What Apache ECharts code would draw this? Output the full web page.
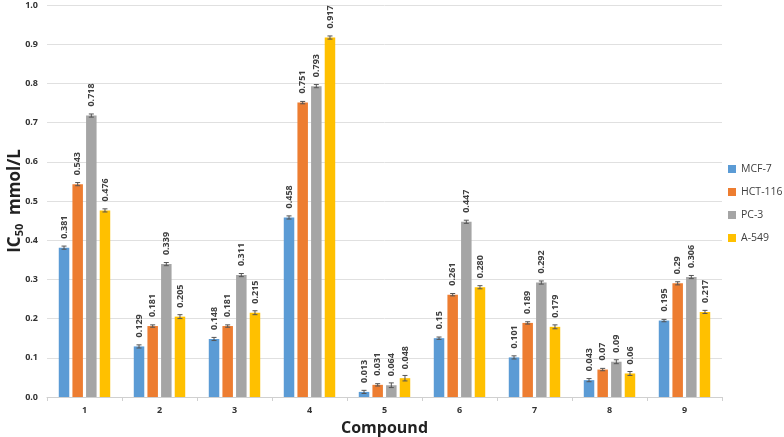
<!DOCTYPE html>
<html>
<head>
<meta charset="utf-8">
<script src="https://cdn.jsdelivr.net/npm/echarts@6/dist/echarts.min.js"></script>
<style>
html,body{margin:0;padding:0;background:#fff;}
#chart{width:784px;height:437px;}
</style>
</head>
<body>
<div id="chart"></div>
<script>
var categories = ['1','2','3','4','5','6','7','8','9'];
var seriesNames = ['MCF-7','HCT-116','PC-3','A-549'];
var mcf7 = [0.381,0.129,0.148,0.458,0.013,0.150,0.101,0.043,0.195];
var hct116 = [0.543,0.181,0.181,0.751,0.031,0.261,0.189,0.070,0.290];
var pc3 = [0.718,0.339,0.311,0.793,0.030,0.447,0.292,0.090,0.306];
var a549 = [0.476,0.205,0.215,0.917,0.048,0.280,0.179,0.060,0.217];
var mcf7Labels = ['0.381','0.129','0.148','0.458','0.013','0.15','0.101','0.043','0.195'];
var hct116Labels = ['0.543','0.181','0.181','0.751','0.031','0.261','0.189','0.07','0.29'];
var pc3Labels = ['0.718','0.339','0.311','0.793','0.064','0.447','0.292','0.09','0.306'];
var a549Labels = ['0.476','0.205','0.215','0.917','0.048','0.280','0.179','0.06','0.217'];
var mcf7Err = [0.004,0.004,0.004,0.004,0.004,0.003,0.004,0.004,0.003];
var hct116Err = [0.004,0.003,0.003,0.003,0.003,0.003,0.003,0.003,0.004];
var pc3Err = [0.004,0.004,0.004,0.004,0.006,0.004,0.004,0.005,0.004];
var a549Err = [0.004,0.005,0.005,0.004,0.007,0.004,0.005,0.005,0.004];
var colors = ['#5B9BD5','#ED7D31','#A5A5A5','#FFC000'];

var values = [mcf7,hct116,pc3,a549];
var labels = [mcf7Labels,hct116Labels,pc3Labels,a549Labels];
var errs = [mcf7Err,hct116Err,pc3Err,a549Err];

var FONT = 'Open Sans';
var BW = 10.5, GAP = 3.15;
var series = [];
values.forEach(function(v, si){
  series.push({
    name: seriesNames[si],
    type: 'bar',
    data: v,
    barWidth: BW,
    barGap: '30%',
    itemStyle: {color: colors[si]},
    label: {
      show: true,
      position: 'top',
      rotate: 90,
      align: 'left',
      verticalAlign: 'middle',
      distance: 9,
      fontSize: 9,
      fontWeight: 'bold',
      color: '#404040',
      fontFamily: FONT,
      formatter: function(p){ return labels[si][p.dataIndex]; }
    },
    z: 2
  });
});
var errData = [];
values.forEach(function(v, si){
  v.forEach(function(val, ci){ errData.push([ci, val, errs[si][ci], si]); });
});
series.push({
  type: 'custom',
  name: 'err',
  data: errData,
  z: 5,
  silent: true,
  renderItem: function(params, api){
    var ci = api.value(0), val = api.value(1), e = api.value(2), si = api.value(3);
    var groupW = 4*BW + 3*GAP;
    var base = api.coord([ci, val]);
    var x = base[0] - groupW/2 + si*(BW+GAP) + BW/2;
    var hi = api.coord([ci, val + e])[1];
    var lo = api.coord([ci, Math.max(0, val - e)])[1];
    var s = {stroke: '#555', lineWidth: 1};
    return {type: 'group', children: [
      {type:'line', shape:{x1:x,y1:hi,x2:x,y2:lo}, style:s},
      {type:'line', shape:{x1:x-2.5,y1:hi,x2:x+2.5,y2:hi}, style:s},
      {type:'line', shape:{x1:x-2.5,y1:lo,x2:x+2.5,y2:lo}, style:s}
    ]};
  }
});

var chart = echarts.init(document.getElementById('chart'));
chart.setOption({
  animation: false,
  textStyle: {fontFamily: FONT},
  grid: {left: 47, right: 62, top: 5, bottom: 40, containLabel: false, outerBoundsMode: 'none'},
  legend: {
    data: seriesNames,
    orient: 'vertical',
    left: 728,
    top: 162,
    padding: 0,
    itemWidth: 8,
    itemHeight: 8,
    itemGap: 9,
    icon: 'rect',
    textStyle: {fontSize: 10.5, lineHeight: 14, color: '#404040', fontFamily: FONT}
  },
  xAxis: {
    type: 'category',
    data: categories,
    name: 'Compound',
    nameLocation: 'middle',
    nameGap: 23,
    nameMoveOverlap: false,
    nameTextStyle: {fontSize: 16, fontWeight: 'bold', color: '#222', fontFamily: FONT},
    axisLine: {lineStyle: {color: '#d0d0d0'}},
    axisTick: {show: true, length: 4, lineStyle: {color: '#d0d0d0'}},
    axisLabel: {fontSize: 9, fontWeight: 'bold', color: '#333', margin: 9}
  },
  yAxis: {
    type: 'value',
    min: 0, max: 1.0, interval: 0.1,
    name: '{a|IC}{b|50}{a|  mmol/L}',
    nameLocation: 'middle',
    nameGap: 22,
    nameMoveOverlap: false,
    nameRotate: 90,
    nameTextStyle: {
      rich: {
        a: {fontSize: 17, fontWeight: 'bold', color: '#222', fontFamily: FONT},
        b: {fontSize: 11, fontWeight: 'bold', color: '#222', fontFamily: FONT, padding: [8,0,0,0]}
      }
    },
    axisLine: {show: false},
    axisTick: {show: false},
    axisLabel: {fontSize: 9, fontWeight: 'bold', color: '#333', margin: 9,
      formatter: function(v){ return v.toFixed(1); }},
    splitLine: {lineStyle: {color: '#e0e0e0'}}
  },
  series: series
});
</script>
</body>
</html>
